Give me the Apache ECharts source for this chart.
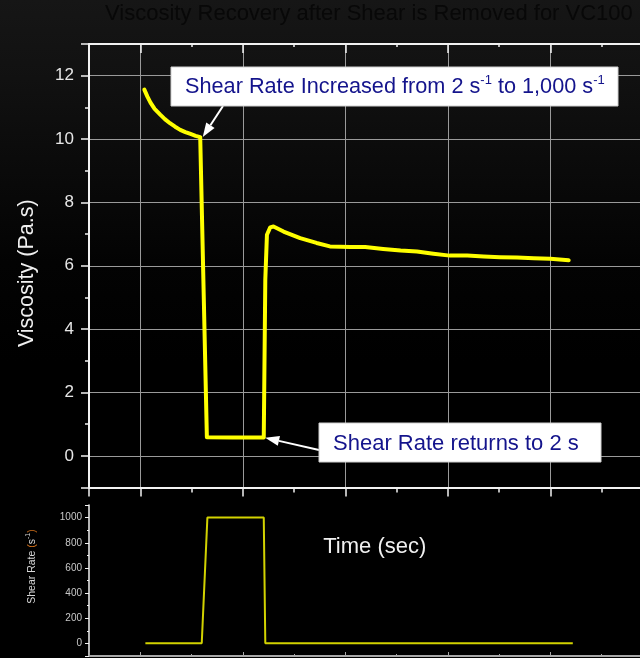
<!DOCTYPE html>
<html>
<head>
<meta charset="utf-8">
<script src="https://cdn.jsdelivr.net/npm/echarts@6/dist/echarts.min.js"></script>
<style>
  html, body { margin: 0; padding: 0; background: #000; }
  #chart { width: 640px; height: 658px; }
</style>
</head>
<body>
<div id="chart"></div>
<script>
// ---- data ----
const titleText = 'Viscosity Recovery after Shear is Removed for VC100';

// viscosity trace (time in s, viscosity in Pa.s)
const timeSec = [4, 7, 10, 14, 19.5, 24, 29, 34, 39, 44, 49, 54, 58.5, 60, 65, 90, 120.5, 122, 123.6, 126.8, 130,
  139.8, 156, 172, 185, 205, 219.5, 237, 254, 270, 286, 302, 319, 335, 351, 367.5, 384, 400, 418];
const viscosity = [11.56, 11.34, 11.15, 10.95, 10.77, 10.63, 10.5, 10.39, 10.29, 10.22, 10.16, 10.1, 10.06, 10.0, 0.59, 0.58, 0.58, 5.56, 6.98, 7.21, 7.24,
  7.08, 6.87, 6.72, 6.61, 6.59, 6.59, 6.53, 6.48, 6.45, 6.38, 6.32, 6.32, 6.29, 6.27, 6.26, 6.24, 6.22, 6.17];

// applied shear rate (1/s)
const shearTime = [5, 60, 65.5, 120.5, 122, 422];
const shearRate = [2, 2, 1000, 1000, 2, 2];

// axis ranges
const timeRange = [-50, 490];
const viscosityRange = [-1, 13];
const shearRange = [-100, 1100];

// annotation targets on the viscosity trace
const increasePoint = [60, 10.0];
const returnPoint = [120, 0.57];
const increaseNote = 'Shear Rate Increased from 2 s{sup|-1} to 1,000 s{sup|-1}';
const returnNote = 'Shear Rate returns to 2 s';

// ---- styling ----
const FONT = '"Liberation Sans", Arial, Helvetica, sans-serif';
const AXIS_WHITE = '#f2f2f2';
const GRID_GRAY = '#9a9a9a';

const chart = echarts.init(document.getElementById('chart'), null, { renderer: 'canvas' });

const option = {
  animation: false,
  backgroundColor: {
    type: 'linear', x: 0, y: 0, x2: 0, y2: 1,
    colorStops: [
      { offset: 0, color: '#161616' },
      { offset: 0.12, color: '#111111' },
      { offset: 0.4, color: '#030303' },
      { offset: 0.55, color: '#000000' },
      { offset: 1, color: '#000000' }
    ]
  },
  textStyle: { fontFamily: FONT },
  title: {
    text: titleText,
    left: 105, top: 3,
    padding: 0,
    textStyle: { color: '#080808', fontSize: 22, fontWeight: 'normal', fontFamily: FONT }
  },
  grid: [
    { left: 89, top: 44, right: -2.5, bottom: 170.5, outerBoundsMode: 'none', containLabel: false },
    { left: 89, top: 505, right: -2.5, bottom: 2, outerBoundsMode: 'none', containLabel: false }
  ],
  xAxis: [
    { // main plot, bottom
      type: 'value', gridIndex: 0, position: 'bottom',
      min: timeRange[0], max: timeRange[1], splitNumber: 5,
      axisLine: { show: true, onZero: false, lineStyle: { color: AXIS_WHITE, width: 2 } },
      axisTick: { show: true, inside: false, length: 9, lineStyle: { color: AXIS_WHITE, width: 1.5 } },
      minorTick: { show: true, splitNumber: 2, length: 5, lineStyle: { color: AXIS_WHITE, width: 1.5 } },
      axisLabel: { show: false },
      splitLine: { show: true, lineStyle: { color: GRID_GRAY, width: 1 } },
      name: 'Time (sec)', nameLocation: 'middle', nameGap: 48.5,
      nameTextStyle: { color: '#f0f0f0', fontSize: 22, fontFamily: FONT, padding: [0, 0, 0, 18] }
    },
    { // main plot, top frame
      type: 'value', gridIndex: 0, position: 'top',
      min: timeRange[0], max: timeRange[1], splitNumber: 5,
      axisLine: { show: true, onZero: false, lineStyle: { color: AXIS_WHITE, width: 2 } },
      axisTick: { show: true, inside: true, length: 9, lineStyle: { color: AXIS_WHITE, width: 1.5 } },
      minorTick: { show: true, splitNumber: 2, length: 3, lineStyle: { color: AXIS_WHITE, width: 1.5 } },
      axisLabel: { show: false },
      splitLine: { show: false }
    },
    { // shear panel, bottom
      type: 'value', gridIndex: 1, position: 'bottom',
      min: timeRange[0], max: timeRange[1], splitNumber: 5,
      axisLine: { show: true, onZero: false, lineStyle: { color: '#a8a8a8', width: 2 } },
      axisTick: { show: true, inside: true, length: 4, lineStyle: { color: '#a8a8a8', width: 1 } },
      minorTick: { show: true, splitNumber: 2, length: 2, lineStyle: { color: '#a8a8a8', width: 1 } },
      axisLabel: { show: false },
      splitLine: { show: false }
    }
  ],
  yAxis: [
    { // viscosity
      type: 'value', gridIndex: 0, position: 'left',
      min: viscosityRange[0], max: viscosityRange[1], splitNumber: 7,
      axisLine: { show: true, onZero: false, lineStyle: { color: AXIS_WHITE, width: 2 } },
      axisTick: { show: true, inside: false, length: 8, lineStyle: { color: AXIS_WHITE, width: 1.5 } },
      minorTick: { show: true, splitNumber: 2, length: 4, lineStyle: { color: AXIS_WHITE, width: 1.5 } },
      axisLabel: {
        show: true, color: '#e6e6e6', fontSize: 17, fontFamily: FONT, margin: 15,
        showMinLabel: false, showMaxLabel: false,
        formatter: v => String(v)
      },
      splitLine: { show: true, lineStyle: { color: GRID_GRAY, width: 1 } },
      name: 'Viscosity (Pa.s)', nameLocation: 'middle', nameGap: 51,
      nameTextStyle: { color: '#f0f0f0', fontSize: 21.5, fontFamily: FONT, padding: [0, 15, 0, 0] }
    },
    { // shear rate
      type: 'value', gridIndex: 1, position: 'left',
      min: shearRange[0], max: shearRange[1], splitNumber: 6,
      axisLine: { show: true, onZero: false, lineStyle: { color: AXIS_WHITE, width: 1.5 } },
      axisTick: { show: true, inside: false, length: 4, lineStyle: { color: AXIS_WHITE, width: 1 } },
      minorTick: { show: true, splitNumber: 2, length: 2, lineStyle: { color: AXIS_WHITE, width: 1 } },
      axisLabel: {
        show: true, color: '#c8c8c8', fontSize: 10, fontFamily: FONT, margin: 7,
        showMinLabel: false, showMaxLabel: false,
        formatter: v => String(v)
      },
      splitLine: { show: false },
      name: 'Shear Rate {o|(}s{sup|-1}{o|)}', nameLocation: 'middle', nameGap: 50,
      nameTextStyle: {
        color: '#d8d8d8', fontSize: 10.5, fontFamily: FONT, padding: [0, 0, 0, 28],
        rich: {
          o: { color: '#d2701a', fontSize: 10.5, fontFamily: FONT },
          sup: { color: '#d8d8d8', fontSize: 7, fontFamily: FONT, verticalAlign: 'top', lineHeight: 14 }
        }
      }
    }
  ],
  series: [
    {
      name: 'Viscosity', type: 'line', xAxisIndex: 0, yAxisIndex: 0,
      data: timeSec.map((t, i) => [t, viscosity[i]]),
      showSymbol: false, symbol: 'none', smooth: false,
      lineStyle: { color: '#ffff00', width: 4, join: 'round', cap: 'round' },
      z: 5
    },
    {
      name: 'Shear Rate', type: 'line', xAxisIndex: 2, yAxisIndex: 1,
      data: shearTime.map((t, i) => [t, shearRate[i]]),
      showSymbol: false, symbol: 'none', smooth: false,
      lineStyle: { color: '#d2d200', width: 2 },
      z: 5
    }
  ]
};

chart.setOption(option);

// ---- call-out boxes with arrows pointing at the trace ----
function arrow(id, from, tip) {
  const dx = tip[0] - from[0], dy = tip[1] - from[1];
  const len = Math.sqrt(dx * dx + dy * dy);
  const ux = dx / len, uy = dy / len;
  const headLen = 14, headHalf = 5;
  const bx = tip[0] - ux * headLen, by = tip[1] - uy * headLen;
  return [
    { type: 'line', id: id + '-shaft', z: 20,
      shape: { x1: from[0], y1: from[1], x2: bx, y2: by },
      style: { stroke: '#ffffff', lineWidth: 2 } },
    { type: 'polygon', id: id + '-head', z: 20,
      shape: { points: [tip, [bx - uy * headHalf, by + ux * headHalf], [bx + uy * headHalf, by - ux * headHalf]] },
      style: { fill: '#ffffff' } }
  ];
}

const box1 = { x: 171, y: 67, w: 447, h: 39 };
const box2 = { x: 319, y: 423, w: 282, h: 39 };
const tip1 = chart.convertToPixel({ gridIndex: 0 }, increasePoint);
const tip2 = chart.convertToPixel({ gridIndex: 0 }, returnPoint);

const noteStyle = { fill: '#14148c', fontSize: 22, fontFamily: FONT, verticalAlign: 'middle', align: 'left' };

chart.setOption({
  graphic: [
    ...arrow('a1', [box1.x + 52, box1.y + box1.h], [tip1[0] + 1, tip1[1] - 2]),
    ...arrow('a2', [box2.x, box2.y + 27], [tip2[0] + 2, tip2[1]]),
    { type: 'rect', id: 'b1', z: 21, shape: { x: box1.x, y: box1.y, width: box1.w, height: box1.h },
      style: { fill: '#ffffff', stroke: '#cfcfcf', lineWidth: 1 } },
    { type: 'text', id: 't1', z: 22, x: 185, y: box1.y + box1.h / 2 + 1,
      style: Object.assign({}, noteStyle, {
        text: increaseNote,
        fontSize: 21.7,
        rich: { sup: { fill: '#14148c', fontSize: 13, fontFamily: FONT, verticalAlign: 'top', lineHeight: 28 } }
      }) },
    { type: 'rect', id: 'b2', z: 21, shape: { x: box2.x, y: box2.y, width: box2.w, height: box2.h },
      style: { fill: '#ffffff', stroke: '#cfcfcf', lineWidth: 1 } },
    { type: 'text', id: 't2', z: 22, x: 333, y: box2.y + box2.h / 2 + 1,
      style: Object.assign({}, noteStyle, { text: returnNote }) }
  ]
});
</script>
</body>
</html>
